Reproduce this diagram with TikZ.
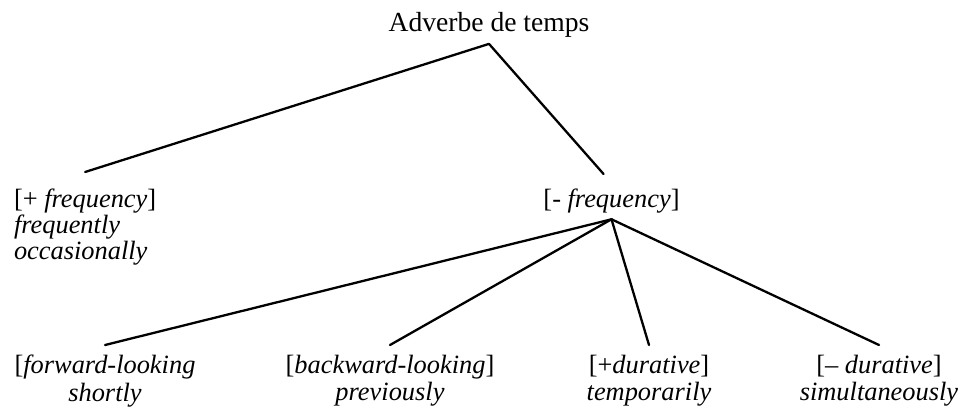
\documentclass[tikz,border=0pt]{standalone}
\usepackage{fontspec}
\setmainfont{Liberation Serif}
\usepackage{tikz}
\usetikzlibrary{positioning}
\tikzset{
  catlabel/.style={inner sep=0pt, outer sep=3pt, align=center, font=\fontsize{13.2}{14}\selectfont},
  toplabel/.style={catlabel, font=\fontsize{13.8}{16}\selectfont},
  featlabel/.style={catlabel, align=left, outer ysep=8.5pt, font=\fontsize{13.2}{13}\selectfont},
  leaflabel/.style={catlabel, outer ysep=5pt, font=\fontsize{13.2}{13.8}\selectfont},
  branch/.style={line width=1.15pt, line cap=round},
  midbranch/.style={branch, shorten >=6pt}
}

\begin{document}
\begin{tikzpicture}[x=0.5pt, y=-0.5pt]
  \useasboundingbox (0,0) rectangle (966,407);

  % root
  \node[toplabel, anchor=base] (adv) at (489,32) {Adverbe de temps};

  % frequency level
  \node[featlabel, anchor=north west] (plusfreq) at (8,172)
        {[+ \textit{frequency}]\\\textit{frequently}\\\textit{occasionally}};
  \node[catlabel, anchor=north] (minusfreq) at (611.5,183)
        {[- \textit{frequency}]};

  % lower level
  \node[leaflabel, anchor=north] (fwd) at (105,345)
        {[\textit{forward-looking}\\\textit{shortly}};
  \node[leaflabel, anchor=north] (bwd) at (390,345)
        {[\textit{backward-looking}]\\\textit{previously}};
  \node[leaflabel, anchor=north] (dur) at (649,345)
        {[+\textit{durative}]\\\textit{temporarily}};
  \node[leaflabel, anchor=north] (nondur) at (879,345)
        {[-- \textit{durative}]\\\textit{simultaneously}};

  % branches
  \draw[branch] (adv.south) -- (plusfreq.north);
  \draw[midbranch] (adv.south) -- (minusfreq.north);
  \draw[branch] (minusfreq.south) -- (fwd.north);
  \draw[branch] (minusfreq.south) -- (bwd.north);
  \draw[branch] (minusfreq.south) -- (dur.north);
  \draw[branch] (minusfreq.south) -- (nondur.north);
\end{tikzpicture}
\end{document}
